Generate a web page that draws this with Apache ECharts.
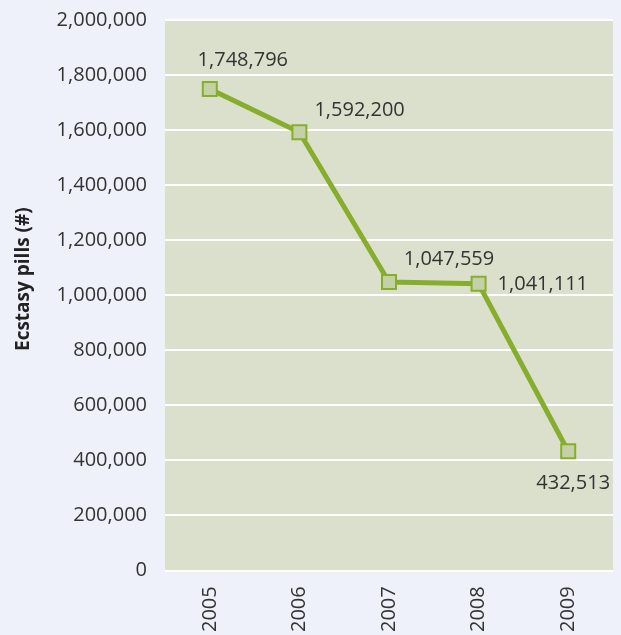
<!DOCTYPE html>
<html><head><meta charset="utf-8">
<script src="https://cdn.jsdelivr.net/npm/echarts@6/dist/echarts.min.js"></script>
<style>html,body{margin:0;padding:0;background:#eef1f9;}#c{width:621px;height:635px;}</style>
</head><body><div id="c"></div>
<script>
const years = ['2005','2006','2007','2008','2009'];
const pills = [1748796, 1592200, 1047559, 1041111, 432513];
const yTicks = [0, 200000, 400000, 600000, 800000, 1000000, 1200000, 1400000, 1600000, 1800000, 2000000];

const labelCfg = [
  {position:'top', offset:[33,-6]},
  {position:'right', offset:[2,-22]},
  {position:'top', offset:[60,0]},
  {position:'right', offset:[6,0]},
  {position:'bottom', offset:[5,9]}
];
const fmt = v => v.toLocaleString('en-US');
const chart = echarts.init(document.getElementById('c'));
chart.setOption({
  backgroundColor:'#eef1f9',
  textStyle:{fontFamily:'Open Sans'},
  grid:{left:165,right:8,top:20,bottom:63,show:true,backgroundColor:'#dbe0cc',borderWidth:0},
  xAxis:{type:'category',data:years,boundaryGap:true,
    axisLine:{show:false},axisTick:{show:false},
    axisLabel:{rotate:90,fontSize:20,color:'#333',margin:16,fontFamily:'Open Sans'}},
  yAxis:{type:'value',min:yTicks[0],max:yTicks[yTicks.length-1],interval:200000,
    name:'Ecstasy pills (#)',nameLocation:'middle',nameGap:132,
    nameTextStyle:{fontSize:19,fontWeight:'bold',color:'#222',fontFamily:'Open Sans',padding:[0,0,0,32]},
    axisLine:{show:false},axisTick:{show:false},
    splitLine:{lineStyle:{color:'#ffffff',width:2}},
    axisLabel:{fontSize:20,color:'#333',margin:18,fontFamily:'Open Sans',formatter:v=>fmt(v)}},
  series:[{type:'line',data:pills.map((v,i)=>({value:v,label:{show:true,position:labelCfg[i].position,offset:labelCfg[i].offset,distance:5}})),
    symbol:'rect',symbolSize:14,
    lineStyle:{color:'#86ae2c',width:5},
    itemStyle:{color:'#c4d0a6',borderColor:'#86ae2c',borderWidth:2},
    label:{show:true,fontSize:20,color:'#333',fontFamily:'Open Sans',formatter:p=>fmt(p.value)},
    z:5}]
});
</script></body></html>
